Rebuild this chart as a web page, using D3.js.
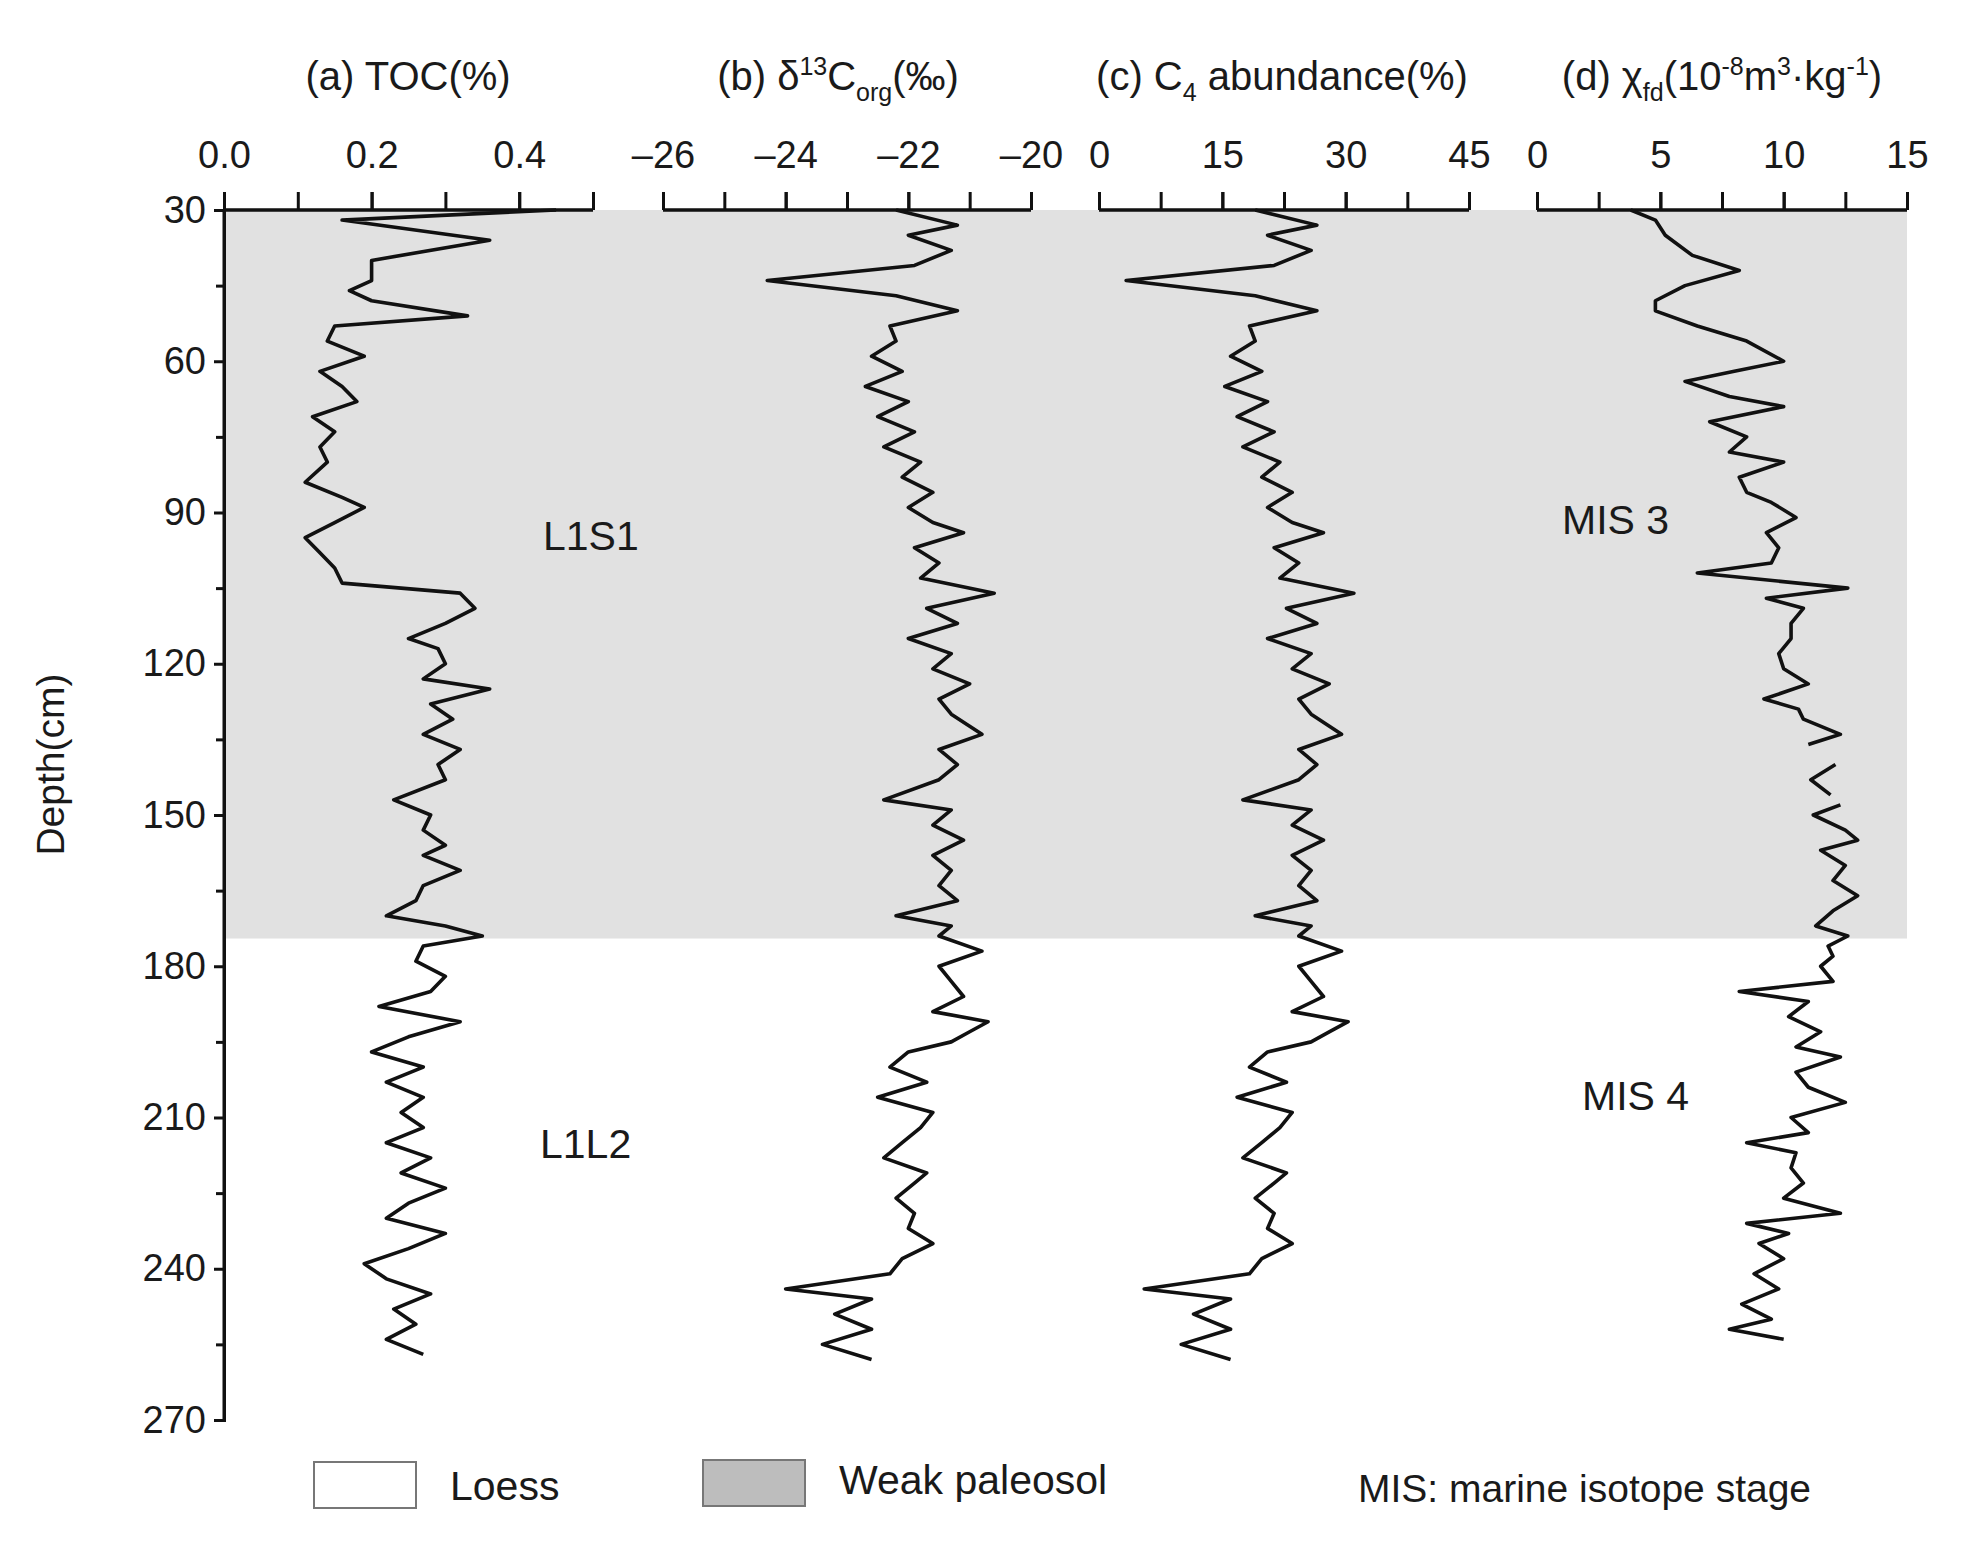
<!DOCTYPE html>
<html>
<head>
<meta charset="utf-8">
<script src="https://cdn.jsdelivr.net/npm/d3@7"></script>
<style>
body { margin: 0; background: #fff; }
text { font-family: "Liberation Sans", Arial, sans-serif; fill: #1a1a1a; }
</style>
</head>
<body>
<svg id="chart" width="1977" height="1541"></svg>
<script>
// depth (cm) of each sample, per panel
const depthTOC = [30,32,36,40,44,46,48,51,53,56,59,62,65,68,71,74,77,80,84,87,89,92,95,98,101,104,106,109,112,115,117,120,123,125,128,131,134,137,140,143,147,150,153,156,158,161,164,167,170,172,174,176,179,182,185,188,191,194,197,200,203,206,209,212,215,218,221,224,227,230,233,236,239,242,245,248,251,254,257];
const toc = [0.45,0.16,0.36,0.2,0.2,0.17,0.2,0.33,0.15,0.14,0.19,0.13,0.16,0.18,0.12,0.15,0.13,0.14,0.11,0.16,0.19,0.15,0.11,0.13,0.15,0.16,0.32,0.34,0.3,0.25,0.29,0.3,0.27,0.36,0.28,0.31,0.27,0.32,0.29,0.3,0.23,0.28,0.27,0.3,0.27,0.32,0.27,0.26,0.22,0.3,0.35,0.27,0.26,0.3,0.28,0.21,0.32,0.25,0.2,0.27,0.22,0.27,0.24,0.27,0.22,0.28,0.24,0.3,0.25,0.22,0.3,0.25,0.19,0.22,0.28,0.23,0.26,0.22,0.27];

const depthIso = [30,33,35,38,41,44,47,50,53,56,59,62,65,68,71,74,77,80,83,86,89,92,94,97,100,103,106,109,112,115,118,121,124,127,130,134,137,140,143,147,149,152,155,158,161,164,167,170,172,174,177,180,183,186,189,191,193,195,197,200,203,206,209,212,215,218,221,223,226,229,232,235,238,241,244,246,249,252,255,258];
const d13c = [-22.2,-21.2,-22.0,-21.3,-21.9,-24.3,-22.2,-21.2,-22.3,-22.2,-22.6,-22.1,-22.7,-22.0,-22.5,-21.9,-22.4,-21.8,-22.1,-21.6,-22.0,-21.6,-21.1,-21.9,-21.5,-21.8,-20.6,-21.7,-21.2,-22.0,-21.3,-21.6,-21.0,-21.5,-21.3,-20.8,-21.5,-21.2,-21.5,-22.4,-21.3,-21.6,-21.1,-21.6,-21.3,-21.5,-21.2,-22.2,-21.3,-21.5,-20.8,-21.5,-21.3,-21.1,-21.6,-20.7,-21.0,-21.3,-22.0,-22.3,-21.7,-22.5,-21.6,-21.8,-22.1,-22.4,-21.7,-21.9,-22.2,-21.9,-22.0,-21.6,-22.1,-22.3,-24.0,-22.6,-23.2,-22.6,-23.4,-22.6];
const c4 = [19,26.5,20.5,25.8,21.3,3.3,19,26.5,18.3,19,16,19.8,15.3,20.5,16.8,21.3,17.5,22,19.8,23.5,20.5,23.5,27.3,21.3,24.3,22,31,22.8,26.5,20.5,25.8,23.5,28,24.3,25.8,29.5,24.3,26.5,24.3,17.5,25.8,23.5,27.3,23.5,25.8,24.3,26.5,19,25.8,24.3,29.5,24.3,25.8,27.3,23.5,30.3,28,25.8,20.5,18.3,22.8,16.8,23.5,22,19.8,17.5,22.8,21.3,19,21.3,20.5,23.5,19.8,18.3,5.5,16,11.5,16,10,16];

// null marks a gap in the record
const depthChi = [30,32,35,39,42,45,48,50,53,56,60,62,64,67,69,72,75,78,80,83,86,88,91,94,97,100,102,105,107,109,112,115,118,121,124,127,129,131,134,136,137,140,143,146,147,148,150,153,155,157,160,163,166,169,172,174,176,178,180,183,185,187,190,193,196,198,201,204,207,210,213,215,217,220,223,226,229,231,233,235,238,241,244,247,250,252,254];
const chi = [3.8,4.8,5.2,6.3,8.2,6.0,4.8,4.8,6.5,8.5,10.0,8.0,6.0,7.8,10.0,7.0,8.5,7.8,10.0,8.2,8.5,9.5,10.5,9.3,9.8,9.5,6.5,12.6,9.3,10.8,10.3,10.3,9.8,10.0,11.0,9.2,10.6,10.8,12.3,11.0,null,12.1,11.1,11.9,null,12.3,11.2,12.5,13.0,11.5,12.5,12.0,13.0,12.0,11.3,12.6,11.8,12.0,11.5,12.0,8.2,11.0,10.2,11.5,10.5,12.3,10.5,11.0,12.5,10.3,11.0,8.5,10.5,10.3,10.8,10.0,12.3,8.5,10.2,9.0,10.0,8.8,9.8,8.3,9.5,7.8,10.0];

const depthTicks = [30,60,90,120,150,180,210,240,270];
const panels = [
  { title: "toc", domain: [0, 0.5], ticks: [0.0, 0.2, 0.4], minor: 0.1, depth: depthTOC, values: toc, fmt: d3.format(".1f") },
  { title: "d13c", domain: [-26, -20], ticks: [-26, -24, -22, -20], minor: 1, depth: depthIso, values: d13c, fmt: d => String(d).replace("-", "\u2013") },
  { title: "c4", domain: [0, 45], ticks: [0, 15, 30, 45], minor: 7.5, depth: depthIso, values: c4, fmt: d3.format("d") },
  { title: "chi", domain: [0, 15], ticks: [0, 5, 10, 15], minor: 2.5, depth: depthChi, values: chi, fmt: d3.format("d") }
];
const panelX = [[224, 593], [663, 1031], [1099, 1469], [1537, 1907]];

const svg = d3.select("#chart");
const y = d3.scaleLinear().domain([30, 270]).range([210, 1420]);

// weak paleosol shading
svg.append("rect")
  .attr("x", 224).attr("y", y(30))
  .attr("width", 1907 - 224).attr("height", y(174.5) - y(30))
  .attr("fill", "#e1e1e1");

// depth axis
const yAxis = svg.append("g").attr("transform", "translate(224,0)")
  .call(d3.axisLeft(y).tickValues(depthTicks).tickSize(10).tickPadding(8));
yAxis.append("g").call(d3.axisLeft(y).tickValues(d3.range(45, 270, 30)).tickSize(8).tickFormat(""));
yAxis.selectAll("path, line").attr("stroke", "#111").attr("stroke-width", 3);
yAxis.selectAll("text").attr("font-size", 38).attr("fill", "#1a1a1a")
  .style("font-family", "'Liberation Sans', Arial, sans-serif");
yAxis.select(".domain").attr("d", `M0,${y(30)}V${y(270)}`);

svg.append("text")
  .attr("transform", `translate(64,${y(140)}) rotate(-90)`)
  .attr("text-anchor", "middle").attr("font-size", 39).text("Depth(cm)");

panels.forEach((p, i) => {
  const x = d3.scaleLinear().domain(p.domain).range(panelX[i]);
  const g = svg.append("g").attr("transform", `translate(0,${y(30)})`);
  g.call(d3.axisTop(x).tickValues(d3.range(p.domain[0], p.domain[1] + 1e-9, p.minor)).tickSize(18).tickFormat(""));
  g.append("g").call(d3.axisTop(x).tickValues(p.ticks).tickSize(18).tickPadding(24).tickFormat(p.fmt));
  g.selectAll("path, line").attr("stroke", "#111").attr("stroke-width", 3);
  g.selectAll(".domain").attr("d", `M${panelX[i][0]},0H${panelX[i][1]}`);
  g.selectAll("text").attr("font-size", 38).attr("fill", "#1a1a1a")
    .style("font-family", "'Liberation Sans', Arial, sans-serif");

  const pts = p.depth.map((d, k) => ({ d: d, v: p.values[k] }));
  svg.append("path")
    .datum(pts)
    .attr("fill", "none").attr("stroke", "#111").attr("stroke-width", 3.6)
    .attr("stroke-linejoin", "round")
    .attr("d", d3.line().defined(q => q.v !== null).x(q => x(q.v)).y(q => y(q.d)));
});

// panel titles
const titleY = 90;
const t1 = svg.append("text").attr("x", 408).attr("y", titleY).attr("text-anchor", "middle").attr("font-size", 40);
t1.text("(a) TOC(%)");
const t2 = svg.append("text").attr("x", 838).attr("y", titleY).attr("text-anchor", "middle").attr("font-size", 40);
t2.append("tspan").text("(b) \u03b4");
t2.append("tspan").attr("font-size", 25).attr("dy", -15).text("13");
t2.append("tspan").attr("dy", 15).text("C");
t2.append("tspan").attr("font-size", 25).attr("dy", 11).text("org");
t2.append("tspan").attr("dy", -11).text("(\u2030)");
const t3 = svg.append("text").attr("x", 1282).attr("y", titleY).attr("text-anchor", "middle").attr("font-size", 40);
t3.append("tspan").text("(c) C");
t3.append("tspan").attr("font-size", 25).attr("dy", 11).text("4");
t3.append("tspan").attr("dy", -11).text(" abundance(%)");
const t4 = svg.append("text").attr("x", 1722).attr("y", titleY).attr("text-anchor", "middle").attr("font-size", 40);
t4.append("tspan").text("(d) \u03c7");
t4.append("tspan").attr("font-size", 25).attr("dy", 11).text("fd");
t4.append("tspan").attr("dy", -11).text("(10");
t4.append("tspan").attr("font-size", 25).attr("dy", -15).text("-8");
t4.append("tspan").attr("dy", 15).text("m");
t4.append("tspan").attr("font-size", 25).attr("dy", -15).text("3");
t4.append("tspan").attr("dy", 15).text("\u00b7kg");
t4.append("tspan").attr("font-size", 25).attr("dy", -15).text("-1");
t4.append("tspan").attr("dy", 15).text(")");

// layer labels
const labels = [["L1S1", 543, 550], ["L1L2", 540, 1158], ["MIS 3", 1562, 534], ["MIS 4", 1582, 1110]];
labels.forEach(l => svg.append("text").attr("x", l[1]).attr("y", l[2]).attr("font-size", 41).text(l[0]));

// legend
svg.append("rect").attr("x", 314).attr("y", 1462).attr("width", 102).attr("height", 46)
  .attr("fill", "#fff").attr("stroke", "#777").attr("stroke-width", 2);
svg.append("text").attr("x", 450).attr("y", 1500).attr("font-size", 41).text("Loess");
svg.append("rect").attr("x", 703).attr("y", 1460).attr("width", 102).attr("height", 46)
  .attr("fill", "#bdbdbd").attr("stroke", "#777").attr("stroke-width", 2);
svg.append("text").attr("x", 839).attr("y", 1494).attr("font-size", 41).text("Weak paleosol");
svg.append("text").attr("x", 1358).attr("y", 1502).attr("font-size", 39).text("MIS: marine isotope stage");
</script>
</body>
</html>
